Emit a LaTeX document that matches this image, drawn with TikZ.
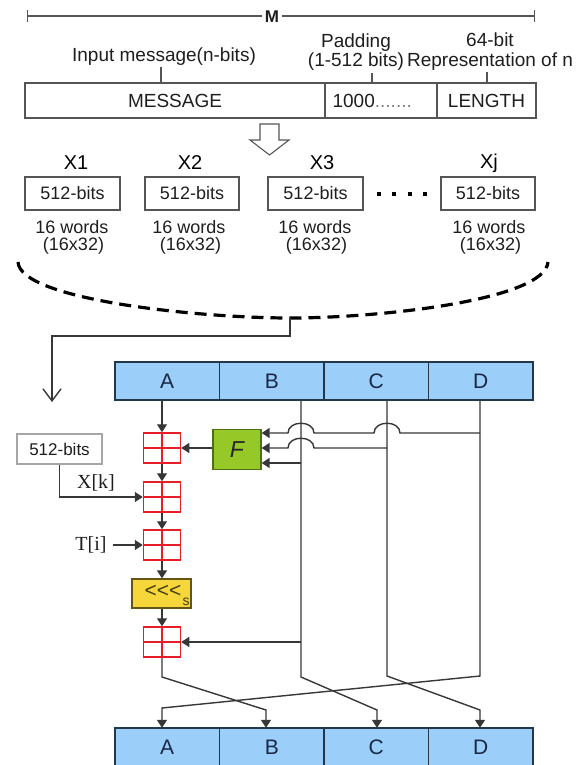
\documentclass[tikz,border=0pt]{standalone}
\usepackage{fontspec}
\setmainfont{Liberation Sans}
\newfontfamily\serifx{Liberation Serif}
\usetikzlibrary{arrows.meta,calc}
\newcommand\setfs[1]{\fontsize{#1}{#1}\selectfont}
\definecolor{regfill}{RGB}{155,206,248}
\definecolor{regline}{RGB}{35,55,75}
\definecolor{regtext}{RGB}{25,40,70}
\definecolor{fgreen}{RGB}{150,200,40}
\definecolor{fline}{RGB}{80,110,20}
\definecolor{rotfill}{RGB}{245,215,60}
\definecolor{rotline}{RGB}{100,85,20}
\definecolor{rottext}{RGB}{70,60,20}
\definecolor{addred}{RGB}{230,30,40}
\definecolor{wirec}{RGB}{55,55,55}
\definecolor{boxline}{RGB}{85,85,85}
\definecolor{txt}{RGB}{30,30,30}
\tikzset{
  gline/.style={draw=boxline, line width=1.2pt},
  wire/.style={draw=wirec, line width=1.4pt},
  arr/.style={wire, -{Triangle[length=8pt,width=10pt]}},
  mbox/.style={draw=boxline, line width=1.2pt, minimum height=35pt, inner sep=0pt, font=\setfs{19}, text=txt},
  xbox/.style={draw=boxline, line width=1.2pt, minimum height=33pt, inner sep=0pt, font=\setfs{18}, text=txt},
  lbl/.style={font=\setfs{19}, text=txt, inner sep=0pt},
  wlbl/.style={font=\fontsize{18}{17}\selectfont, text=txt, align=center, inner sep=0pt},
  reg/.style={fill=regfill, minimum width=104.5pt, minimum height=38pt, inner sep=0pt, font=\setfs{21}, text=regtext},
  regedge/.style={draw=regline, line width=1.5pt},
  adder/.style={draw=addred, fill=white, line width=1.5pt, minimum width=37pt, minimum height=30pt, inner sep=0pt,
    path picture={\draw[addred, line width=1.5pt] (path picture bounding box.north) -- (path picture bounding box.south)
      (path picture bounding box.west) -- (path picture bounding box.east);}},
  fbox/.style={draw=fline, fill=fgreen, line width=1.3pt, minimum width=48pt, minimum height=40pt, inner sep=0pt, font=\setfs{23}\itshape, text=black!85},
  kbox/.style={draw=gray!70, line width=1.2pt, minimum width=85pt, minimum height=30pt, inner sep=0pt, font=\setfs{17}, text=txt},
  rotbox/.style={draw=rotline, fill=rotfill, line width=1.3pt, minimum width=59pt, minimum height=29pt, inner sep=0pt},
  serl/.style={font=\serifx\setfs{20}, text=txt, inner sep=0pt}
}
\begin{document}
\begin{tikzpicture}[x=1pt,y=-1pt]
\useasboundingbox (0,0) rectangle (584,765);

% ---- M span line
\node[font=\bfseries\setfs{17}, inner sep=2.5pt, text=txt] (M) at (272,17) {M};
\coordinate (Ml) at (27,16);
\coordinate (Mr) at (535,16);
\draw[gline, {Bar[width=12pt]}-] (Ml) -- (Ml -| M.west);
\draw[gline, -{Bar[width=12pt]}] (Mr -| M.east) -- (Mr);

% ---- message boxes
\node[mbox, minimum width=300pt] (msg) at (175,100.5) {MESSAGE};
\node[mbox, minimum width=112pt] (pad) at (381,100.5) {};
\node[mbox, minimum width=99pt] (len) at (486.5,100.5) {LENGTH};
\node[lbl, anchor=west] (padtxt) at ($(pad.west)+(8,0)$) {1000\textcolor{gray}{.......}};

% ---- labels above
\node[lbl] (lin) at (164,57) {Input message(n-bits)};
\node[lbl, align=center, font=\fontsize{19}{17}\selectfont] (lpad) at (356,52) {Padding\\(1-512 bits)};
\node[lbl, align=center, font=\fontsize{19}{20}\selectfont] (l64) at (490,52) {64-bit\\Representation of n};
\coordinate (t1) at (161,67);
\coordinate (t2) at (372,73);
\coordinate (t3) at (487,72);
\draw[gline] (t1) -- (t1 |- msg.north);
\draw[gline] (t2) -- (t2 |- pad.north);
\draw[gline] (t3) -- (t3 |- len.north);

% ---- hollow arrow
\draw[boxline, line width=1.1pt, fill=white] (260,124) -- (279,124) -- (279,140) -- (289,140) -- (269.5,155) -- (250,140) -- (260,140) -- cycle;

% ---- blocks X1..Xj
\node[font=\setfs{20}, text=black] (lx1) at (76,163) {X1};
\node[font=\setfs{20}, text=black] (lx2) at (190,163) {X2};
\node[font=\setfs{20}, text=black] (lx3) at (322,163) {X3};
\node[font=\setfs{20}, text=black] (lxj) at (489,163) {Xj};
\node[xbox, minimum width=95pt] (x1) at (72.5,193.5) {512-bits};
\node[xbox, minimum width=94pt] (x2) at (192,193.5) {512-bits};
\node[xbox, minimum width=95pt] (x3) at (315.5,193.5) {512-bits};
\node[xbox, minimum width=94pt] (xj) at (488,193.5) {512-bits};
\node[wlbl] (w1) at (72,237) {16 words\\\hspace*{3pt}(16x32)};
\node[wlbl] (w2) at (189,237) {16 words\\\hspace*{3pt}(16x32)};
\node[wlbl] (w3) at (315,237) {16 words\\\hspace*{3pt}(16x32)};
\node[wlbl] (wj) at (489,237) {16 words\\\hspace*{3pt}(16x32)};
\draw[line width=4pt, dash pattern=on 4pt off 11.5pt] ($(x3.east)+(13,0)$) -- ($(xj.west)+(-11,0)$);

% ---- dashed brace
\draw[line width=3.2pt, dash pattern=on 12pt off 7pt] (18,262) .. controls (20,300) and (200,318) .. (290,318) .. controls (380,318) and (545,300) .. (548,262);
\coordinate (bb) at (290,318);
\coordinate (c1) at (290,336);
\coordinate (c2) at (52,336);
\coordinate (c3) at (52,402);
\draw[wire, -{Straight Barb[length=12pt,width=18pt]}] (bb) -- (c1) -- (c2) -- (c3);

% ---- registers
\foreach \n/\x in {A/167.25, B/271.75, C/376.25, D/480.75} {
  \node[reg] (t\n) at (\x,381) {\n};
  \node[reg] (b\n) at (\x,747) {\n};
}
\foreach \n in {A,B,C,D} {
  \draw[regedge] (t\n.north west) rectangle (t\n.south east);
  \draw[regedge] (b\n.north west) rectangle (b\n.south east);
}

% ---- round function
\node[adder] (a1) at (162,448) {};
\node[adder] (a2) at (162,497) {};
\node[adder] (a3) at (162,545) {};
\node[rotbox] (rot) at (161.5,593.5) {};
\node[font=\setfs{21}, text=rottext, inner sep=0pt] (rtxt) at (163,591) {<{}<{}<};
\node[font=\setfs{14}, text=rottext, inner sep=0pt] (rs) at (186,602) {s};
\node[adder] (a4) at (162,642) {};
\node[fbox] (F) at (237,449.5) {F};
\node[kbox] (kb) at (59.5,449) {512-bits};
\node[serl] (xk) at (96,483) {X[k]};
\node[serl] (ti) at (91,545) {T[i]};

\draw[arr] (a1.north |- tA.south) -- (a1.north);
\draw[arr] (a1.south) -- (a2.north);
\draw[arr] (a2.south) -- (a3.north);
\draw[arr] (a3.south) -- (a3.south |- rot.north);
\draw[arr] (a4.north |- rot.south) -- (a4.north);
\draw[arr] (a1.east -| F.west) -- (a1.east);
\draw[arr] (kb.south) |- (a2.west);
\draw[arr, shorten <=6pt] (ti.east) -- (a3.west);

% ---- B, C, D wires
\coordinate (bT) at (301,400);
\coordinate (cT) at (387,400);
\coordinate (dT) at (480,400);
\coordinate (aK) at (162,677);
\coordinate (bK) at (301,677);
\coordinate (cK) at (387,676);
\coordinate (dK) at (480,676);
\coordinate (aE) at (266,710);
\coordinate (bE) at (377,710);
\coordinate (cE) at (480,710);
\coordinate (dE) at (162,708);
\draw[arr] (bT) -- (bK) -- (bE) -- (bE |- bC.north);
\draw[arr] (cT) -- (cK) -- (cE) -- (cE |- bD.north);
\draw[arr] (dT) -- (dK) -- (dE) -- (dE |- bA.north);
\draw[arr] (a4.south) -- (aK) -- (aE) -- (aE |- bB.north);

% ---- inputs of F
\coordinate (f1) at (480,433);
\coordinate (f2) at (387,448);
\coordinate (f3) at (301,463);
\draw[arr] (f3) -- (f3 -| F.east);
\draw[arr] (f2) -- (314,448) .. controls (314,435) and (288,435) .. (288,448) -- (f2 -| F.east);
\draw[arr] (f1) -- (400,433) .. controls (400,420) and (374,420) .. (374,433) -- (314,433) .. controls (314,420) and (288,420) .. (288,433) -- (f1 -| F.east);

% ---- feed into last adder
\coordinate (b4) at (301,642);
\draw[arr] (b4) -- (a4.east);
\end{tikzpicture}
\end{document}
